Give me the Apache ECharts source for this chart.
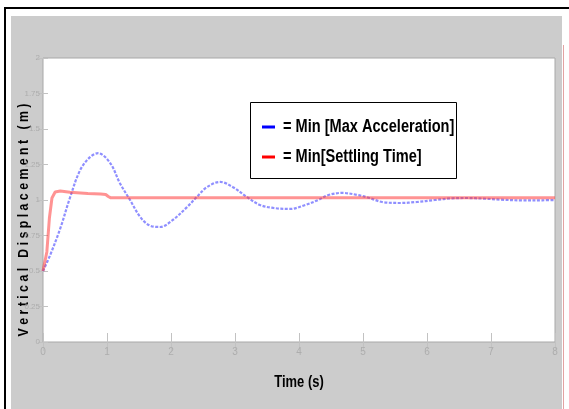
<!DOCTYPE html>
<html>
<head>
<meta charset="utf-8">
<script src="https://cdn.jsdelivr.net/npm/echarts@6/dist/echarts.min.js"></script>
<style>
  html, body { margin: 0; padding: 0; background: #ffffff; }
  #chart { width: 569px; height: 409px; }
</style>
</head>
<body>
<div id="chart"></div>
<script>
// Step response of the vertical displacement for two optimisation targets
const timeBlue = [0, 0.11, 0.27, 0.42, 0.58, 0.73, 0.86, 1.05, 1.2, 1.36, 1.52, 1.67, 1.83, 2.03, 2.25, 2.4,
  2.56, 2.77, 2.97, 3.19, 3.39, 3.6, 3.86, 4.1, 4.3, 4.46, 4.67, 4.92, 5.1, 5.3, 5.58, 5.84, 6.12, 6.4, 6.62,
  6.88, 7.14, 7.5, 7.8, 8.0];
const dispBlue = [0.5, 0.61, 0.8, 1.014, 1.21, 1.30, 1.33, 1.26, 1.12, 1.0, 0.88, 0.82, 0.81, 0.86, 0.95, 1.02,
  1.09, 1.127, 1.09, 1.02, 0.965, 0.944, 0.937, 0.965, 1.0, 1.035, 1.05, 1.035, 1.014, 0.986, 0.979, 0.986,
  1.0, 1.012, 1.014, 1.01, 1.003, 0.997, 0.998, 1.0];

const timeRed = [0, 0.06, 0.1, 0.14, 0.19, 0.27, 0.42, 0.7, 0.9, 0.98, 1.02, 1.06, 8.0];
const dispRed = [0.5, 0.634, 0.873, 1.014, 1.056, 1.063, 1.054, 1.046, 1.042, 1.039, 1.025, 1.015, 1.015];

const seriesNames = ['Min [Max Acceleration]', 'Min[Settling Time]'];
const legendColors = ['#0000ff', '#ff0000'];

const xTickLabels = ['0', '1', '2', '3', '4', '5', '6', '7', '8'];
const yTickLabels = ['0', '0.25', '0.5', '0.75', '1', '1.25', '1.5', '1.75', '2'];

const xTitle = 'Time (s)';
const yTitle = 'V e r t i c a l   D i s p l a c e m e n t   ( m )';

const SANS = '"Liberation Sans", Arial, sans-serif';
const NARROW_SCALE = 0.81;          // condensed look for the bold captions
const TICK_COLOR = '#c2c2c2';
const LABEL_COLOR = '#adadad';

const pairs = (xs, ys) => xs.map((x, i) => [x, ys[i]]);

const chart = echarts.init(document.getElementById('chart'), null, { renderer: 'canvas' });

const xAxisBase = {
  type: 'value', min: 0, max: 8, interval: 1,
  axisLine: { show: false },
  splitLine: { show: false },
  axisTick: { show: true, inside: true, length: 9, lineStyle: { color: TICK_COLOR, width: 1 } }
};
const yAxisBase = {
  type: 'value', min: 0, max: 2, interval: 0.25,
  axisLine: { show: false },
  splitLine: { show: false },
  axisTick: { show: true, inside: true, length: 5, lineStyle: { color: TICK_COLOR, width: 1 } }
};

// Legend box: coloured dash followed by "= name"
const legendTop = 102, legendLeft = 250, legendRowGap = 30;
const legendGraphics = [
  {
    type: 'rect', silent: true, z: 50,
    shape: { x: legendLeft + 0.5, y: legendTop + 0.5, width: 206, height: 76 },
    style: { fill: '#ffffff', stroke: '#000000', lineWidth: 1 }
  }
];
seriesNames.forEach((name, i) => {
  const cy = legendTop + 25 + i * legendRowGap;
  legendGraphics.push({
    type: 'line', silent: true, z: 51,
    shape: { x1: legendLeft + 12, y1: cy, x2: legendLeft + 25, y2: cy },
    style: { stroke: legendColors[i], lineWidth: 3 }
  });
  legendGraphics.push({
    type: 'text', silent: true, z: 51, x: legendLeft + 33, y: cy, scaleX: NARROW_SCALE,
    style: {
      text: '= ' + name, fill: '#000', font: 'bold 18px ' + SANS,
      align: 'left', verticalAlign: 'middle'
    }
  });
});

chart.setOption({
  backgroundColor: '#ffffff',
  animation: false,
  grid: {
    left: 43, top: 58, width: 512, height: 284,
    show: true, backgroundColor: '#ffffff', borderColor: '#a8a8a8', borderWidth: 1
  },
  xAxis: [
    Object.assign({}, xAxisBase, {
      position: 'bottom',
      axisLabel: {
        color: LABEL_COLOR, fontSize: 10, fontFamily: SANS, margin: 5,
        formatter: v => xTickLabels[Math.round(v)]
      }
    }),
    Object.assign({}, xAxisBase, { position: 'top', axisLabel: { show: false } })
  ],
  yAxis: [
    Object.assign({}, yAxisBase, {
      position: 'left',
      axisLabel: {
        color: LABEL_COLOR, fontSize: 8, fontFamily: SANS, margin: 3,
        formatter: v => yTickLabels[Math.round(v / 0.25)]
      }
    }),
    Object.assign({}, yAxisBase, { position: 'right', axisLabel: { show: false } })
  ],
  graphic: [
    { type: 'rect', z: -100, silent: true, shape: { x: 11, y: 16, width: 551, height: 393 }, style: { fill: '#cccccc' } },
    { type: 'line', z: -90, silent: true, shape: { x1: 5, y1: 7, x2: 5, y2: 409 }, style: { stroke: '#000', lineWidth: 2 } },
    { type: 'line', z: -90, silent: true, shape: { x1: 4, y1: 8, x2: 569, y2: 8 }, style: { stroke: '#000', lineWidth: 2 } },
    { type: 'line', z: -90, silent: true, shape: { x1: 563.5, y1: 45, x2: 563.5, y2: 409 }, style: { stroke: '#e3a3a3', lineWidth: 1 } },
    {
      type: 'text', silent: true, x: 299, y: 383, scaleX: NARROW_SCALE,
      style: { text: xTitle, fill: '#000', font: 'bold 16px ' + SANS, align: 'center', verticalAlign: 'middle' }
    },
    {
      type: 'text', silent: true, x: 24, y: 220, rotation: Math.PI / 2, scaleX: 0.88,
      style: { text: yTitle, fill: '#000', font: 'bold 14px ' + SANS, align: 'center', verticalAlign: 'middle' }
    }
  ].concat(legendGraphics),
  series: [
    {
      name: seriesNames[0], type: 'line',
      data: pairs(timeBlue, dispBlue), showSymbol: false, symbol: 'none', smooth: 0.35, z: 2,
      lineStyle: { color: '#5a5aff', width: 2.2, opacity: 0.68, type: [3, 1.5] }
    },
    {
      name: seriesNames[1], type: 'line',
      data: pairs(timeRed, dispRed), showSymbol: false, symbol: 'none', z: 3,
      lineStyle: { color: '#ff3a3a', width: 3, opacity: 0.55 }
    }
  ]
});
</script>
</body>
</html>
